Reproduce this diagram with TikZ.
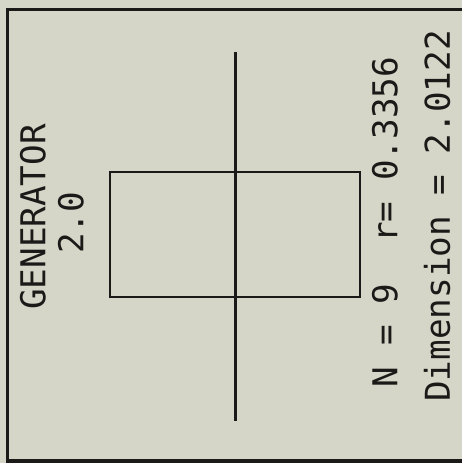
\documentclass[tikz,border=0pt]{standalone}
\usepackage{fontspec}
\setmonofont{DejaVu Sans Mono}
\usetikzlibrary{positioning}
\definecolor{paper}{RGB}{214,214,200}
\definecolor{ink}{RGB}{28,26,24}
\tikzset{
  plot/.style={
    draw=ink,
    line width=1.4pt
  },
  frame/.style={
    draw=ink,
    line width=1.8pt
  },
  label/.style={
    rotate=90,
    inner sep=0pt,
    text=ink,
    font=\ttfamily\fontsize{19.5}{21}\selectfont
  }
}

\begin{document}
\begin{tikzpicture}
  \fill[paper] (0,0) rectangle (9.24,9.26);
  \useasboundingbox (0,0) rectangle (9.24,9.26);
  \clip (0,0) rectangle (9.24,9.26);
  \draw[frame] (0.15,0.04) rectangle (9.8,9.07);

  \coordinate (top) at (4.71,8.22);
  \coordinate (bottom) at (4.71,0.84);
  \draw[plot] (top) -- (bottom);
  \draw[plot] (2.2,3.32) rectangle (7.2,5.82);

  \node[label] (gen) at (0.66,4.92) {GENERATOR};
  \node[label] (genval) at (1.42,4.80) {2.0};
  \node[label] (count) at (7.70,4.82) {N = 9\ \ r= 0.3356};
  \node[label] (dim) at (8.74,4.94) {Dimension = 2.0122};
\end{tikzpicture}
\end{document}
